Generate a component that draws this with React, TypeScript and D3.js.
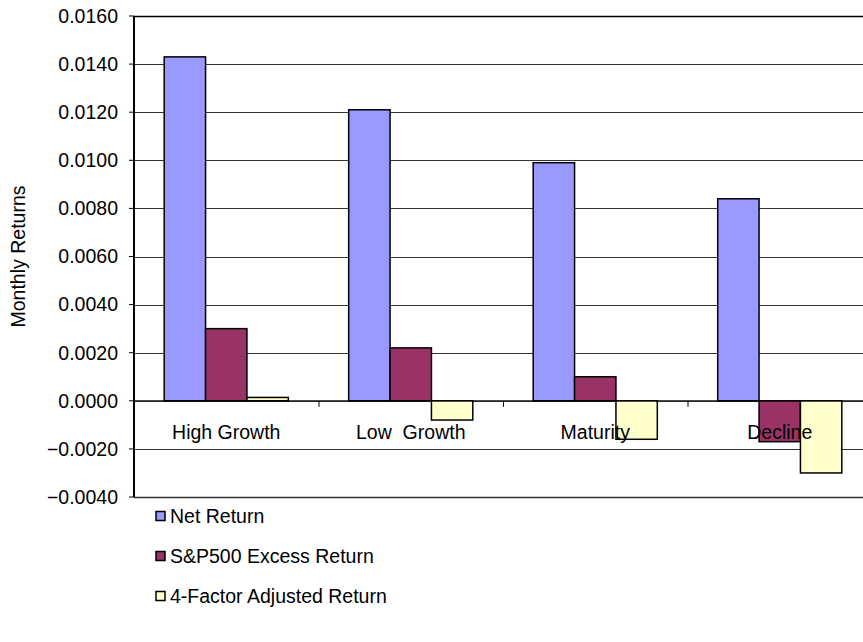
import React from "react";
import * as d3 from "d3";

const categories = ["High Growth", "Low  Growth", "Maturity", "Decline"];
const seriesNames = ["Net Return", "S&P500 Excess Return", "4-Factor Adjusted Return"];
const netReturn = [0.0143, 0.0121, 0.0099, 0.0084];
const spExcess = [0.003, 0.0022, 0.001, -0.0017];
const fourFactor = [0.00014, -0.0008, -0.0016, -0.003];
const yTicks = [-0.004, -0.002, 0, 0.002, 0.004, 0.006, 0.008, 0.01, 0.012, 0.014, 0.016];
const colors = ["#9999FF", "#993366", "#FFFFCC"];

const W = 863;
const H = 642;
const FONT = "Arial, 'Liberation Sans', sans-serif";
const FS = 19.5;

export default function App() {
  const left = 134;
  const right = 872;
  const top = 16;
  const bottom = 497;
  const series = [netReturn, spExcess, fourFactor];

  const y = d3.scaleLinear().domain([-0.004, 0.016]).range([bottom, top]);
  const x0 = d3.scaleBand<string>().domain(categories).range([left, right]).padding(0);
  const x1 = d3
    .scaleBand<string>()
    .domain(seriesNames)
    .range([0, x0.bandwidth()])
    .paddingInner(0)
    .paddingOuter(0.73);
  const fmt = d3.format(".4f");

  return (
    <svg
      width={W}
      height={H}
      style={{ position: "absolute", left: 0, top: 0, background: "#fff" }}
      fontFamily={FONT}
    >
      <rect x={0} y={0} width={W} height={H} fill="#fff" />
      {/* gridlines */}
      {yTicks.map((t) => (
        <line
          key={"g" + t}
          x1={left}
          x2={right}
          y1={Math.round(y(t)) + 0.5}
          y2={Math.round(y(t)) + 0.5}
          stroke={t === 0.016 ? "#000" : "#333"}
          strokeWidth={t === 0.016 || t === -0.004 ? 1.5 : 1}
        />
      ))}
      {/* bars */}
      {categories.map((c, i) => (
        <g key={c} transform={`translate(${x0(c)},0)`}>
          {series.map((s, j) => {
            const v = s[i];
            const y0 = y(0);
            const yv = y(v);
            return (
              <rect
                key={j}
                x={x1(seriesNames[j])}
                y={Math.min(y0, yv)}
                width={x1.bandwidth()}
                height={Math.abs(yv - y0)}
                fill={colors[j]}
                stroke="#000"
                strokeWidth={1.5}
              />
            );
          })}
        </g>
      ))}
      {/* category tick marks on zero line */}
      {categories.slice(1).map((c) => (
        <line
          key={"ct" + c}
          x1={(x0(c) as number) + 0.5}
          x2={(x0(c) as number) + 0.5}
          y1={y(0)}
          y2={y(0) + 6}
          stroke="#000"
          strokeWidth={1}
        />
      ))}
      <line x1={left} x2={right} y1={y(0)} y2={y(0)} stroke="#000" strokeWidth={1} />
      {/* y axis */}
      <line x1={left} x2={left} y1={top} y2={bottom} stroke="#000" strokeWidth={2} />
      {yTicks.map((t) => (
        <g key={"t" + t}>
          <line x1={left - 5} x2={left} y1={y(t)} y2={y(t)} stroke="#000" strokeWidth={1} />
          <text x={118} y={y(t)} dy="0.35em" textAnchor="end" fontSize={FS} fill="#000">
            {fmt(t)}
          </text>
        </g>
      ))}
      <text
        transform={`translate(25,${(top + bottom) / 2}) rotate(-90)`}
        textAnchor="middle"
        fontSize={FS}
        fill="#000"
      >
        Monthly Returns
      </text>
      {/* category labels */}
      {categories.map((c) => (
        <text
          key={"l" + c}
          x={(x0(c) as number) + x0.bandwidth() / 2}
          y={439}
          textAnchor="middle"
          fontSize={FS}
          fill="#000"
          style={{ whiteSpace: "pre" }}
        >
          {c}
        </text>
      ))}
      {/* legend */}
      {seriesNames.map((s, j) => (
        <g key={"lg" + s} transform={`translate(156,${516 + j * 40})`}>
          <rect x={0} y={-4.5} width={9} height={9} fill={colors[j]} stroke="#000" strokeWidth={1.5} />
          <text x={14} y={0} dy="0.35em" fontSize={FS} fill="#000">
            {s}
          </text>
        </g>
      ))}
    </svg>
  );
}
